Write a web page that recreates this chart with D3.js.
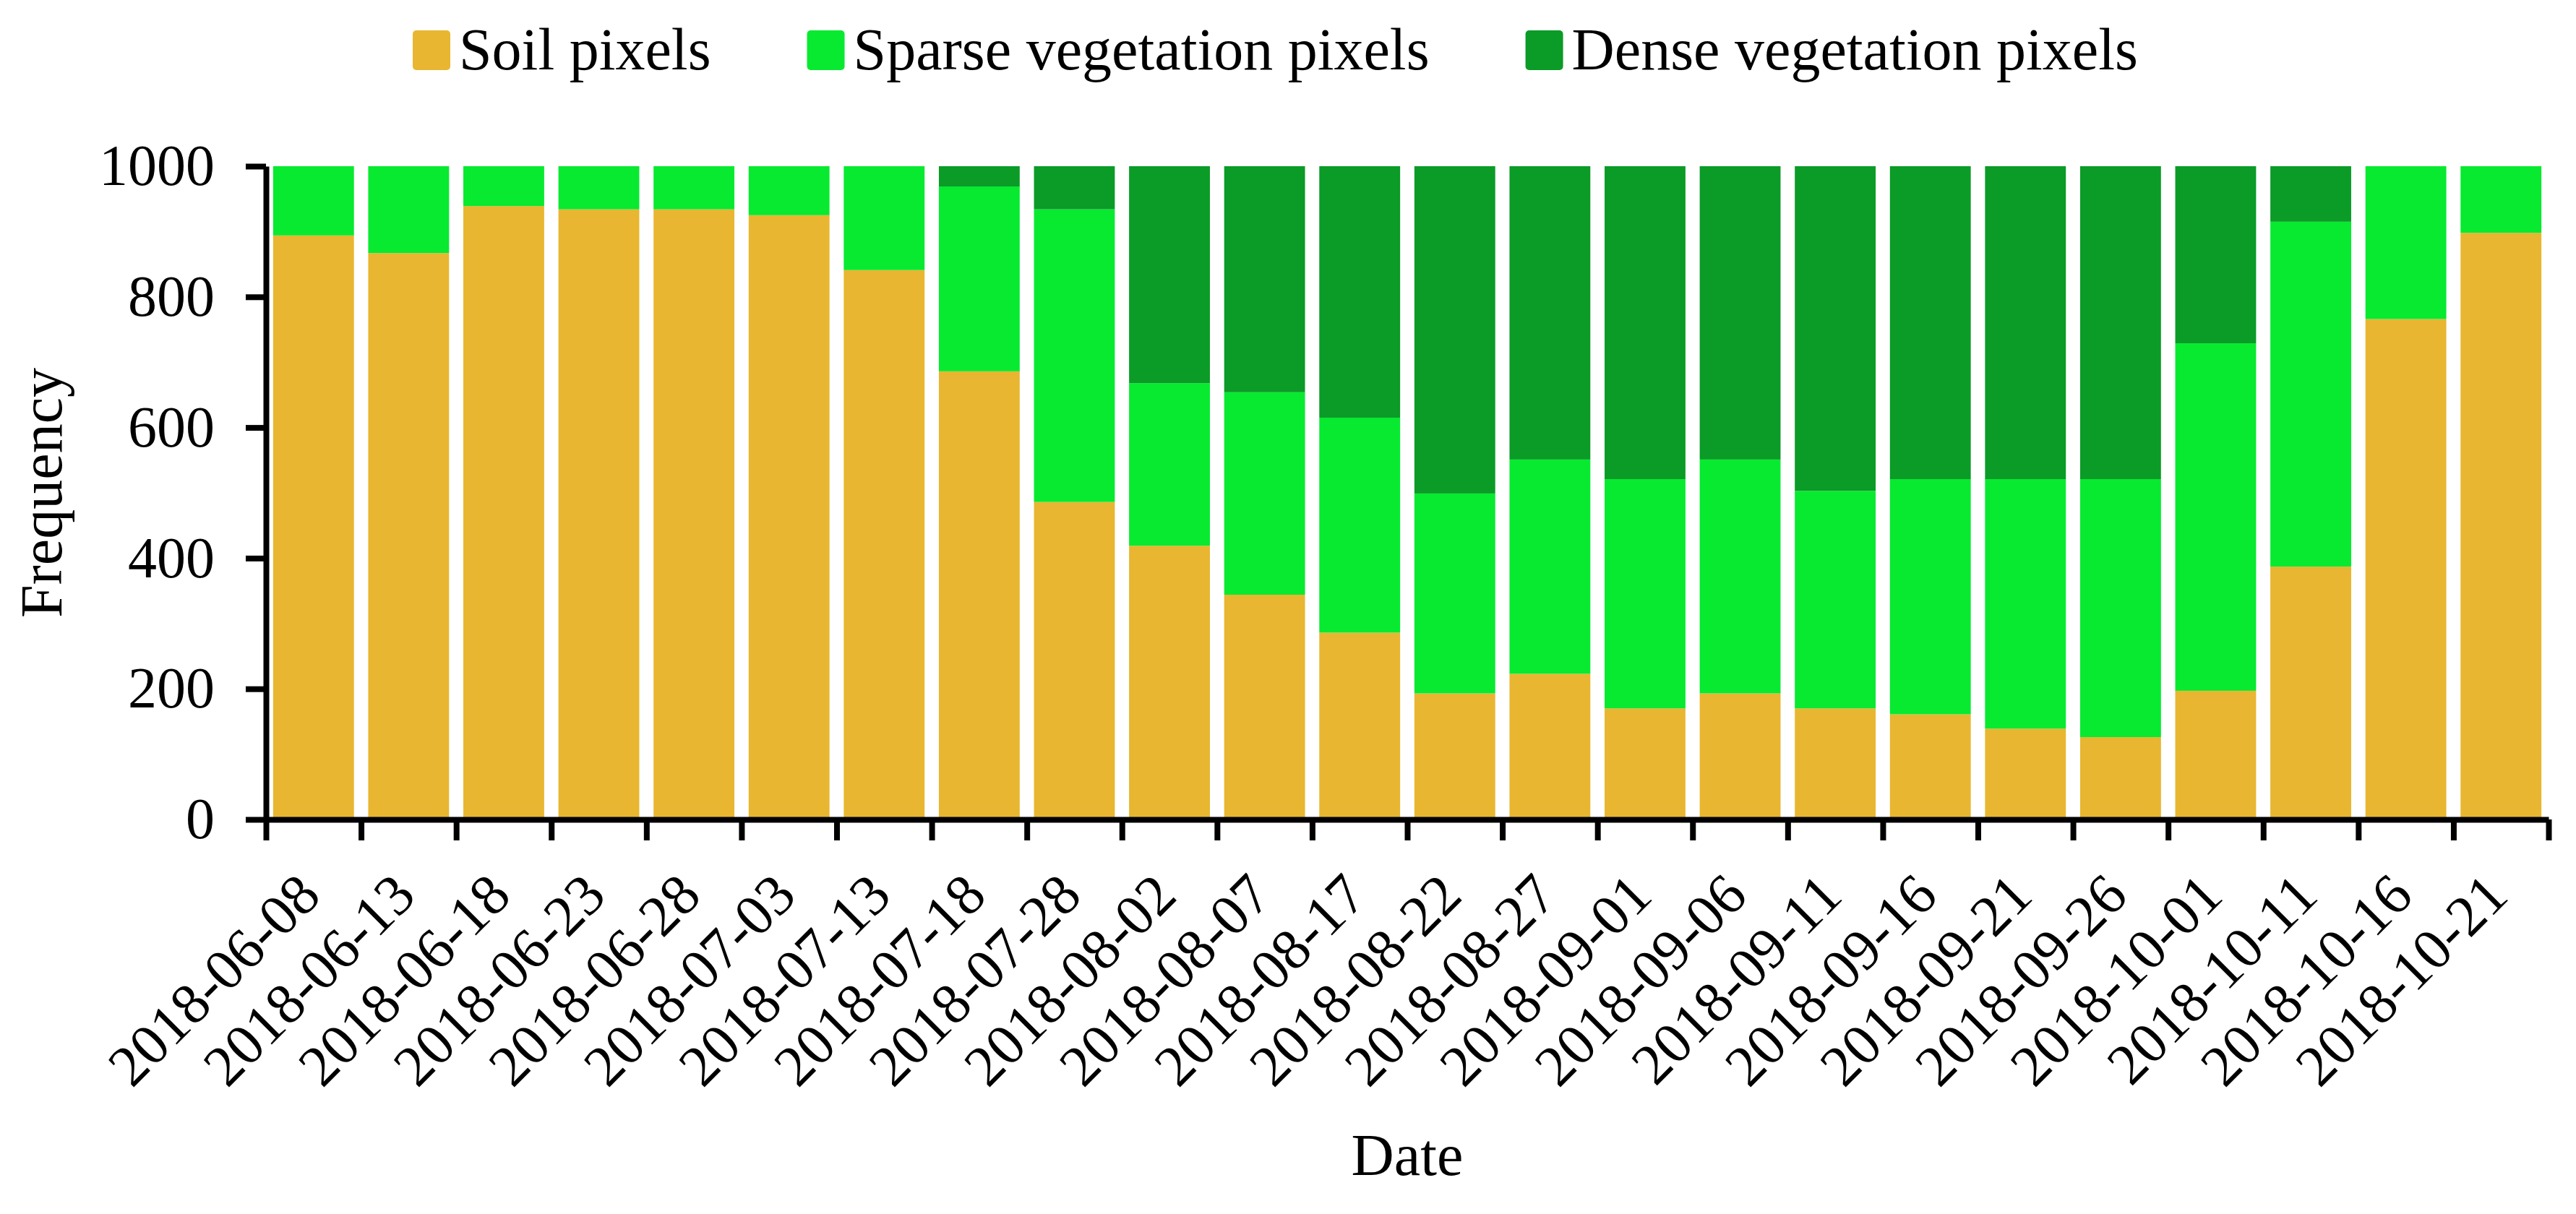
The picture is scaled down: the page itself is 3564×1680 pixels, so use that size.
<!DOCTYPE html>
<html>
<head>
<meta charset="utf-8">
<script src="https://cdn.jsdelivr.net/npm/d3@7"></script>
<style>
  body { margin: 0; background: #fff; }
  svg { display: block; font-family: "Liberation Serif", "Times New Roman", serif; }
</style>
</head>
<body>
<div id="chart"></div>
<script>
const dates = [
  "2018-06-08", "2018-06-13", "2018-06-18", "2018-06-23", "2018-06-28", "2018-07-03",
  "2018-07-13", "2018-07-18", "2018-07-28", "2018-08-02", "2018-08-07", "2018-08-17",
  "2018-08-22", "2018-08-27", "2018-09-01", "2018-09-06", "2018-09-11", "2018-09-16",
  "2018-09-21", "2018-09-26", "2018-10-01", "2018-10-11", "2018-10-16", "2018-10-21"
];
const soil = [894, 867, 939, 934, 934, 925, 841, 686, 486, 419, 344, 286, 193, 223, 170, 193, 170, 161, 139, 126, 197, 387, 766, 898];
const sparse = [106, 133, 61, 66, 66, 75, 159, 283, 448, 249, 310, 329, 306, 328, 351, 358, 333, 360, 382, 395, 532, 528, 234, 102];
const dense = [0, 0, 0, 0, 0, 0, 0, 31, 66, 332, 346, 385, 501, 449, 479, 449, 497, 479, 479, 479, 271, 85, 0, 0];
const yTicks = [0, 200, 400, 600, 800, 1000];
const seriesNames = ["Soil pixels", "Sparse vegetation pixels", "Dense vegetation pixels"];

const W = 3564, H = 1680;
const margin = { top: 230, right: 38, bottom: 546, left: 368 };
const colors = { soil: "#E8B630", sparse: "#07EA30", dense: "#0B9B27" };
const keys = ["soil", "sparse", "dense"];
const fontSize = 80;

const table = dates.map((d, i) => ({ date: d, soil: soil[i], sparse: sparse[i], dense: dense[i] }));
const stacked = d3.stack().keys(keys)(table);

const svg = d3.select("#chart").append("svg")
  .attr("width", W)
  .attr("height", H);

const x = d3.scaleBand()
  .domain(dates)
  .range([margin.left, W - margin.right])
  .paddingInner(0.15)
  .paddingOuter(0.075);

// tick marks sit between the bars
const xEdge = d3.scaleLinear()
  .domain([0, dates.length])
  .range(x.range());

const y = d3.scaleLinear()
  .domain([0, 1000])
  .range([H - margin.bottom, margin.top]);

// Bars
svg.append("g")
  .selectAll("g")
  .data(stacked)
  .join("g")
  .attr("fill", d => colors[d.key])
  .selectAll("rect")
  .data(d => d)
  .join("rect")
  .attr("x", d => x(d.data.date))
  .attr("y", d => y(d[1]))
  .attr("width", x.bandwidth())
  .attr("height", d => y(d[0]) - y(d[1]));

// Y axis
const yAxis = svg.append("g")
  .attr("transform", `translate(${margin.left},0)`)
  .call(d3.axisLeft(y).tickValues(yTicks).tickFormat(d3.format("d"))
    .tickSize(28).tickSizeOuter(0).tickPadding(43));
yAxis.selectAll("path, line").attr("stroke", "#000").attr("stroke-width", 8);
yAxis.selectAll("text").attr("font-size", fontSize).attr("fill", "#000")
  .attr("font-family", "Liberation Serif, Times New Roman, serif");

// X axis line + boundary ticks
const xAxis = svg.append("g")
  .attr("transform", `translate(0,${H - margin.bottom})`)
  .call(d3.axisBottom(xEdge).tickValues(d3.range(dates.length + 1)).tickSize(29).tickSizeOuter(0).tickFormat(""));
xAxis.selectAll("path, line").attr("stroke", "#000").attr("stroke-width", 8);

// X labels, rotated
const xLabels = svg.append("g")
  .attr("transform", `translate(0,${H - margin.bottom})`)
  .call(d3.axisBottom(x).tickSize(0));
xLabels.select(".domain").remove();
xLabels.selectAll("text")
  .attr("font-size", fontSize)
  .attr("font-family", "Liberation Serif, Times New Roman, serif")
  .attr("fill", "#000")
  .attr("x", 0)
  .attr("y", 0)
  .attr("dy", null)
  .attr("text-anchor", "end")
  .attr("transform", "translate(13,109) rotate(-45)");

// Axis titles
svg.append("text")
  .attr("x", (x.range()[0] + x.range()[1]) / 2)
  .attr("y", 1626)
  .attr("text-anchor", "middle")
  .attr("font-size", 82)
  .text("Date");

svg.append("text")
  .attr("transform", "rotate(-90)")
  .attr("x", -(y(0) + y(1000)) / 2)
  .attr("y", 85)
  .attr("text-anchor", "middle")
  .attr("font-size", 82)
  .text("Frequency");

// Legend
const legend = svg.append("g");
let lx = 571;
keys.forEach((k, i) => {
  legend.append("rect")
    .attr("x", lx)
    .attr("y", 42)
    .attr("width", 52)
    .attr("height", 55)
    .attr("rx", 5)
    .attr("fill", colors[k]);
  const t = legend.append("text")
    .attr("x", lx + 52 + 12)
    .attr("y", 96)
    .attr("font-size", 82)
    .text(seriesNames[i]);
  lx += 52 + 12 + t.node().getComputedTextLength() + 133;
});
</script>
</body>
</html>
